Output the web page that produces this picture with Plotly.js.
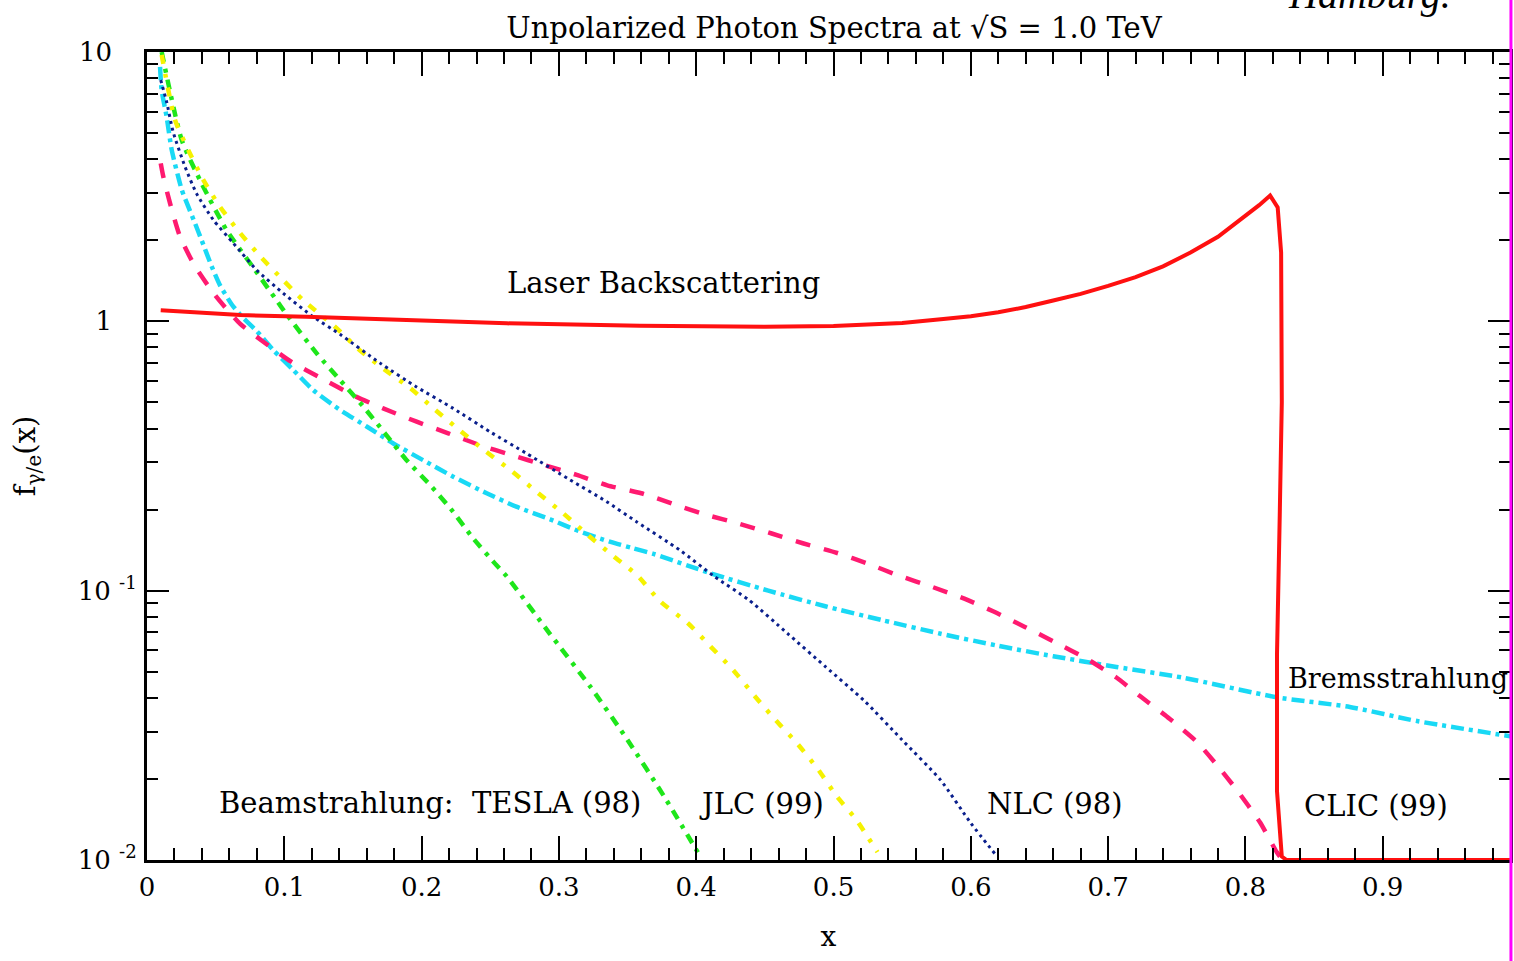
<!DOCTYPE html>
<html>
<head>
<meta charset="utf-8">
<script src="https://cdn.plot.ly/plotly-3.0.1.min.js"></script>
<style>
  html, body { margin: 0; padding: 0; background: #ffffff; }
  #chart { width: 1514px; height: 961px; }
</style>
</head>
<body>
<div id="chart"></div>
<script>
// Photon spectra f(x) for a 1.0 TeV collider: laser backscattering,
// bremsstrahlung and beamstrahlung for four machine designs.

// Laser backscattering (Compton) spectrum, with its sharp edge near x = 0.82
const laserX = [0.01, 0.068, 0.116, 0.189, 0.262, 0.359, 0.40, 0.45, 0.50, 0.55, 0.58, 0.60, 0.62, 0.64, 0.66, 0.68,
                0.70, 0.72, 0.74, 0.76, 0.78, 0.80, 0.81, 0.818,
                0.8235, 0.826, 0.8265, 0.825, 0.823, 0.823, 0.8265, 0.83, 0.9, 0.995];
const laserY = [1.10, 1.055, 1.04, 1.01, 0.983, 0.962, 0.958, 0.955, 0.96, 0.985, 1.02, 1.045, 1.08, 1.13, 1.195, 1.265,
                1.355, 1.46, 1.60, 1.80, 2.06, 2.45, 2.70, 2.93,
                2.65, 1.8, 0.5, 0.19, 0.058, 0.018, 0.0103, 0.01, 0.01, 0.01];

// Bremsstrahlung (Weizsaecker-Williams)
const bremsX = [0.0095, 0.0107, 0.0143, 0.018, 0.0253, 0.030, 0.035, 0.0398, 0.0471, 0.0532, 0.062, 0.070, 0.0799, 0.092,
                0.1066, 0.121, 0.1406, 0.160, 0.1794, 0.2012, 0.223, 0.2474, 0.269, 0.2936, 0.315, 0.337, 0.354, 0.3688,
                0.4105, 0.4525, 0.494, 0.536, 0.578, 0.620, 0.66, 0.706, 0.7548, 0.8228, 0.876, 0.925, 0.993];
const bremsY = [8.8, 7.2, 5.75, 4.33, 3.08, 2.67, 2.31, 2.0, 1.6, 1.36, 1.15, 1.03, 0.92, 0.782,
                0.659, 0.556, 0.469, 0.407, 0.352, 0.305, 0.265, 0.230, 0.205, 0.184, 0.166, 0.152, 0.1437, 0.137,
                0.116, 0.100, 0.0875, 0.0776, 0.0692, 0.0624, 0.0571, 0.0521, 0.0475, 0.0402, 0.0370, 0.0328, 0.0288];

// Beamstrahlung: TESLA (98)
const teslaX = [0.0107, 0.0253, 0.0398, 0.058, 0.0787, 0.0932, 0.1017, 0.1236, 0.1406, 0.1576, 0.1733, 0.1891, 0.2061,
                0.222, 0.2377, 0.2535, 0.262, 0.293, 0.323, 0.350, 0.377, 0.402];
const teslaY = [10, 4.71, 3.25, 2.18, 1.55, 1.22, 1.06, 0.76, 0.605, 0.482, 0.384, 0.305, 0.247,
                0.199, 0.156, 0.126, 0.113, 0.0696, 0.0439, 0.0279, 0.0171, 0.0105];

// Beamstrahlung: JLC (99)
const jlcX = [0.0107, 0.0204, 0.030, 0.041, 0.053, 0.0677, 0.0835, 0.0993, 0.1136, 0.1369, 0.155, 0.172, 0.192, 0.210,
              0.229, 0.247, 0.266, 0.285, 0.303, 0.321, 0.340, 0.357, 0.374, 0.394, 0.4105, 0.427, 0.443, 0.458, 0.4735,
              0.489, 0.5025, 0.5166, 0.532];
const jlcY = [9.75, 5.6, 4.33, 3.35, 2.67, 2.13, 1.72, 1.42, 1.2, 0.955, 0.78, 0.668, 0.563, 0.469,
              0.389, 0.328, 0.277, 0.230, 0.194, 0.161, 0.134, 0.114, 0.091, 0.0757, 0.062, 0.0507, 0.0404, 0.033, 0.0271,
              0.0216, 0.0172, 0.0141, 0.0107];

// Beamstrahlung: NLC (98)
const nlcX = [0.010, 0.0143, 0.019, 0.0277, 0.0361, 0.0483, 0.0629, 0.0799, 0.0993, 0.121, 0.1406, 0.170, 0.196, 0.223,
              0.2498, 0.2765, 0.308, 0.3348, 0.3567, 0.388, 0.4134, 0.4384, 0.4664, 0.4943, 0.522, 0.550, 0.578, 0.600, 0.6185];
const nlcY = [7.87, 6.53, 5.06, 3.75, 2.98, 2.38, 1.95, 1.55, 1.27, 1.04, 0.895, 0.698, 0.572, 0.475,
              0.389, 0.323, 0.258, 0.214, 0.180, 0.1415, 0.1127, 0.0923, 0.0694, 0.0521, 0.0392, 0.0279, 0.0198, 0.0137, 0.0104];

// Beamstrahlung: CLIC (99)
const clicX = [0.010, 0.0119, 0.0168, 0.0241, 0.035, 0.0496, 0.0677, 0.0847, 0.105, 0.1272, 0.150, 0.172, 0.1964, 0.2194,
               0.2425, 0.2644, 0.290, 0.313, 0.3352, 0.360, 0.3854, 0.4078, 0.430, 0.455, 0.4776, 0.5027, 0.525, 0.547,
               0.5725, 0.5948, 0.617, 0.639, 0.6618, 0.684, 0.706, 0.7232, 0.745, 0.7645, 0.779, 0.7937, 0.8106, 0.8228, 0.827];
const clicY = [3.86, 3.44, 2.74, 2.06, 1.60, 1.25, 0.98, 0.84, 0.708, 0.614, 0.532, 0.475, 0.424, 0.384,
               0.347, 0.320, 0.292, 0.269, 0.246, 0.230, 0.208, 0.191, 0.178, 0.163, 0.150, 0.138, 0.126, 0.114,
               0.103, 0.0936, 0.0835, 0.0735, 0.0642, 0.056, 0.0476, 0.0406, 0.0334, 0.0275, 0.0226, 0.0182, 0.0138, 0.0107, 0.0100];

// Axis ticks (plain labels padded with no-break spaces so the exponent labels stick out to the right)
const xTickVals = [0, 0.1, 0.2, 0.3, 0.4, 0.5, 0.6, 0.7, 0.8, 0.9];
const xTickText = ['0', '0.1', '0.2', '0.3', '0.4', '0.5', '0.6', '0.7', '0.8', '0.9'];
const yTickVals = [0.01, 0.1, 1, 10];
const yTickText = ['10 <sup>-2</sup>', '10 <sup>-1</sup>', '1\u00A0\u00A0\u00A0', '10\u00A0\u00A0\u00A0'];

const SERIF = 'DejaVu Serif, Liberation Serif, serif';

function curve(x, y, color, width, dash, shape) {
  return {
    type: 'scatter', mode: 'lines', x: x, y: y,
    line: shape === 'linear'
      ? { color: color, width: width, dash: dash, shape: 'linear' }
      : { color: color, width: width, dash: dash, shape: 'spline', smoothing: 0.6 },
    hoverinfo: 'x+y', showlegend: false
  };
}

const traces = [
  curve(bremsX, bremsY, '#19d9f5', 4.5, '13px,5px,4px,5px'),
  curve(clicX, clicY, '#ff1a70', 4.5, '15px,14px'),
  curve(teslaX, teslaY, '#1ee61a', 4.5, '10px,7px,4px,7px'),
  curve(jlcX, jlcY, '#f5f200', 4.5, '9px,10px,4px,10px'),
  curve(nlcX, nlcY, '#0a1f8c', 3, '3px,4px'),
  curve(laserX, laserY, '#ff1010', 4, 'solid', 'linear')
];

const labelFont = { family: SERIF, size: 29, color: '#000000' };

const layout = {
  width: 1514, height: 961,
  margin: { l: 147, r: 4, t: 52, b: 101 },
  paper_bgcolor: '#ffffff', plot_bgcolor: '#ffffff',
  showlegend: false,
  title: {
    text: 'Unpolarized Photon Spectra at √S = 1.0 TeV',
    font: { family: SERIF, size: 29, color: '#000000' },
    x: 0.504, xref: 'paper', xanchor: 'center',
    y: 0.971, yref: 'container', yanchor: 'middle'
  },
  xaxis: {
    range: [0, 0.9927], tickvals: xTickVals, ticktext: xTickText,
    ticks: 'inside', ticklen: 24, tickwidth: 2, tickcolor: '#000000',
    minor: { tickmode: 'linear', tick0: 0, dtick: 0.02, ticks: 'inside', ticklen: 12, tickwidth: 2, tickcolor: '#000000' },
    showline: true, linecolor: '#000000', linewidth: 3, mirror: 'ticks',
    showgrid: false, zeroline: false,
    tickfont: { family: SERIF, size: 26, color: '#000000' },
    ticklabelstandoff: 2,
    title: { text: 'x', font: { family: SERIF, size: 28, color: '#000000' }, standoff: 26 }
  },
  yaxis: {
    type: 'log', range: [-2, 1], tickvals: yTickVals, ticktext: yTickText,
    ticks: 'inside', ticklen: 22, tickwidth: 2, tickcolor: '#000000',
    minor: { dtick: 'D1', ticks: 'inside', ticklen: 11, tickwidth: 2, tickcolor: '#000000' },
    showline: true, linecolor: '#000000', linewidth: 3, mirror: 'ticks',
    showgrid: false, zeroline: false,
    tickfont: { family: SERIF, size: 26, color: '#000000' },
    ticklabelstandoff: 2,
    title: { text: 'f<sub>γ/e</sub>(x)', font: { family: SERIF, size: 29, color: '#000000' }, standoff: 34 }
  },
  annotations: [
    { text: 'Laser Backscattering', x: 0.376, y: 0.142, xref: 'x', yref: 'y', xanchor: 'center', yanchor: 'middle', showarrow: false, font: labelFont },
    { text: 'Bremsstrahlung', x: 0.8295, y: -1.3246, xref: 'x', yref: 'y', xanchor: 'left', yanchor: 'middle', showarrow: false,
      font: { family: SERIF, size: 27, color: '#000000' } },
    { text: 'Beamstrahlung:  TESLA (98)', x: 0.051, y: -1.789, xref: 'x', yref: 'y', xanchor: 'left', yanchor: 'middle', showarrow: false, font: labelFont },
    { text: 'JLC (99)', x: 0.4006, y: -1.792, xref: 'x', yref: 'y', xanchor: 'left', yanchor: 'middle', showarrow: false, font: labelFont },
    { text: 'NLC (98)', x: 0.610, y: -1.792, xref: 'x', yref: 'y', xanchor: 'left', yanchor: 'middle', showarrow: false, font: labelFont },
    { text: 'CLIC (99)', x: 0.841, y: -1.800, xref: 'x', yref: 'y', xanchor: 'left', yanchor: 'middle', showarrow: false, font: labelFont },
    { text: '<i>Hamburg.</i>', x: 0.897, y: 1.041, xref: 'paper', yref: 'paper', xanchor: 'center', yanchor: 'bottom', showarrow: false,
      font: { family: 'Liberation Serif, serif', size: 40, color: '#000000' } }
  ],
  shapes: [
    { type: 'line', xref: 'paper', yref: 'paper', x0: 1.0007, x1: 1.0007, y0: -0.13, y1: 1.07,
      line: { color: '#ff00ff', width: 3 } }
  ]
};

Plotly.newPlot('chart', traces, layout, { displayModeBar: false, staticPlot: true });
</script>
</body>
</html>
